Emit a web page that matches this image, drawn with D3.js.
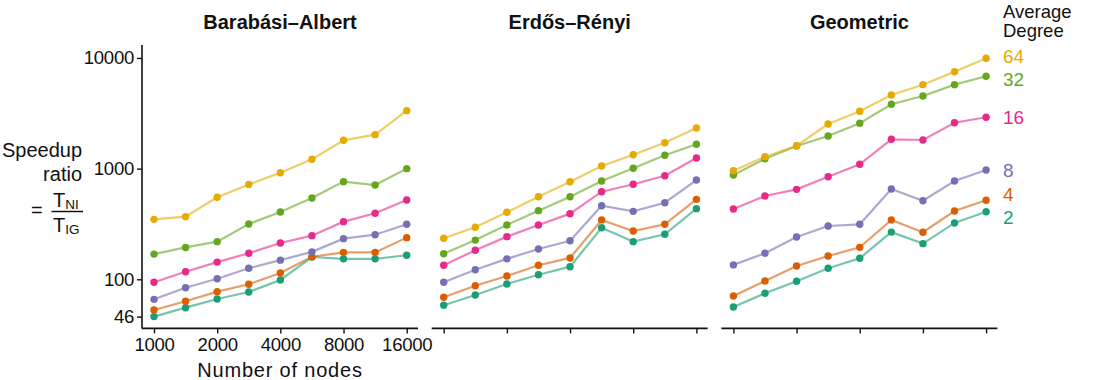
<!DOCTYPE html>
<html><head><meta charset="utf-8">
<script src="https://cdn.jsdelivr.net/npm/d3@7"></script>
<style>
html,body{margin:0;padding:0;background:#fff;}
svg{display:block;font-family:"Liberation Sans",Arial,Helvetica,sans-serif;}
</style></head>
<body><svg id="chart" width="1102" height="380"></svg>
<script>
// ---- data ----
const nodes = [1000, 1414, 2000, 2828, 4000, 5657, 8000, 11314, 16000];
const xTickValues = [1000, 2000, 4000, 8000, 16000];
const xTickLabels = ["1000", "2000", "4000", "8000", "16000"];
const yTickValues = [46, 100, 1000, 10000];
const yTickLabels = ["46", "100", "1000", "10000"];
const degrees = [2, 4, 8, 16, 32, 64];
const degreeColors = ["#1b9e77", "#d95f02", "#7570b3", "#e7298a", "#66a61e", "#e6ab02"];
const panelTitles = ["Barabási–Albert", "Erdős–Rényi", "Geometric"];

// Barabási–Albert
const ba2  = [46, 55.4, 66.4, 76.8, 98.6, 159, 153, 153, 165];
const ba4  = [52.8, 63.3, 77.3, 90.2, 114, 160, 175, 175, 238];
const ba8  = [65.9, 84, 101, 126, 149, 177, 233, 253, 314];
const ba16 = [94, 117, 143, 172, 213, 248, 332, 395, 521];
const ba32 = [169, 194, 219, 316, 406, 543, 763, 711, 1000];
const ba64 = [348, 368, 551, 719, 919, 1214, 1803, 2028, 3342];
// Erdős–Rényi
const er2  = [58.2, 72.1, 90.7, 110, 130, 292, 219, 255, 435];
const er4  = [68.8, 87.5, 107, 134, 156, 344, 273, 314, 528];
const er8  = [94, 122, 153, 188, 223, 462, 411, 492, 789];
const er16 = [134, 183, 243, 310, 392, 619, 722, 863, 1248];
const er32 = [170, 226, 310, 417, 558, 773, 1007, 1321, 1660];
const er64 = [235, 295, 403, 558, 762, 1057, 1337, 1716, 2330];
// Geometric
const geo2  = [56.2, 74.7, 95.9, 126, 155, 267, 210, 323, 408];
const geo4  = [70.6, 96.6, 132, 162.5, 194.5, 344, 266, 414, 518];
const geo8  = [135, 172, 241, 303, 314, 655, 513, 773, 973];
const geo16 = [432, 566, 650, 845, 1094, 1842, 1815, 2602, 2911];
const geo32 = [877, 1230, 1602, 1972, 2570, 3814, 4537, 5738, 6830];
const geo64 = [959, 1282, 1611, 2533, 3296, 4634, 5738, 7518, 9935];

const panelSeries = [
  [ba2, ba4, ba8, ba16, ba32, ba64],
  [er2, er4, er8, er16, er32, er64],
  [geo2, geo4, geo8, geo16, geo32, geo64]
];

// ---- layout ----
const svg = d3.select("#chart");
const plotTop = 45, plotBottom = 328.4;
const panelLeft0 = 142, panelW = 276, panelGap = 13.7;
const y = d3.scaleLog().domain([36, 13100]).range([plotBottom, plotTop]);
const axisColor = "#111";

panelSeries.forEach((series, p) => {
  const left = panelLeft0 + p * (panelW + panelGap);
  const right = left + panelW;
  const x = d3.scaleLog().base(2).domain([1000, 16000]).range([left + 12, right - 11.3]);
  const g = svg.append("g");

  // title
  g.append("text").attr("x", (left + right) / 2).attr("y", 28.7)
    .attr("text-anchor", "middle").attr("font-weight", "bold").attr("font-size", 20)
    .attr("fill", "#111").text(panelTitles[p]);

  // x axis
  const xAxis = d3.axisBottom(x).tickValues(xTickValues).tickSizeOuter(0).tickSize(5).tickPadding(4)
    .tickFormat((d, i) => p === 0 ? xTickLabels[i] : "");
  const xg = g.append("g").attr("transform", `translate(0,${plotBottom})`).call(xAxis);
  xg.select(".domain").remove();
  xg.append("line").attr("x1", left).attr("x2", right).attr("y1", 0).attr("y2", 0)
    .attr("stroke", axisColor).attr("stroke-width", 1.6);
  xg.selectAll(".tick line").attr("stroke", axisColor).attr("stroke-width", 1.4);
  xg.selectAll(".tick text").attr("font-size", 18.6).attr("fill", "#111")
    .attr("font-family", "Liberation Sans, Arial, sans-serif").attr("letter-spacing", -0.3);

  if (p === 0) {
    const yAxis = d3.axisLeft(y).tickValues(yTickValues).tickSize(5).tickPadding(3)
      .tickFormat((d, i) => yTickLabels[i]);
    const yg = g.append("g").attr("transform", `translate(${left},0)`).call(yAxis);
    yg.select(".domain").remove();
    yg.append("line").attr("x1", 0).attr("x2", 0).attr("y1", plotTop).attr("y2", plotBottom)
      .attr("stroke", axisColor).attr("stroke-width", 1.6);
    yg.selectAll(".tick line").attr("stroke", axisColor).attr("stroke-width", 1.4);
    yg.selectAll(".tick text").attr("font-size", 18.6).attr("fill", "#111")
      .attr("font-family", "Liberation Sans, Arial, sans-serif").attr("letter-spacing", -0.3);

    g.append("text").attr("x", (left + right) / 2).attr("y", 376.5)
      .attr("text-anchor", "middle").attr("font-size", 20).attr("letter-spacing", 0.8)
      .attr("fill", "#111").text("Number of nodes");
  }

  const line = d3.line().x((d, i) => x(nodes[i])).y(d => y(d));
  series.forEach((vals, k) => {
    g.append("path").datum(vals).attr("d", line).attr("fill", "none")
      .attr("stroke", degreeColors[k]).attr("stroke-opacity", 0.6).attr("stroke-width", 2.2);
  });
  series.forEach((vals, k) => {
    g.selectAll(null).data(vals).enter().append("circle")
      .attr("cx", (d, i) => x(nodes[i])).attr("cy", d => y(d)).attr("r", 3.7)
      .attr("fill", degreeColors[k]);
  });
});

// ---- y-axis label ----
const yl = svg.append("g").attr("fill", "#111").attr("font-size", 20);
yl.append("text").attr("x", 82).attr("y", 156.5).attr("text-anchor", "end").text("Speedup");
yl.append("text").attr("x", 82).attr("y", 181).attr("text-anchor", "end").text("ratio");
yl.append("text").attr("x", 31).attr("y", 217).text("=");
yl.append("line").attr("x1", 51.5).attr("x2", 83).attr("y1", 211.5).attr("y2", 211.5)
  .attr("stroke", "#111").attr("stroke-width", 1.5);
const num = yl.append("text").attr("x", 53).attr("y", 206.5);
num.append("tspan").text("T");
num.append("tspan").attr("font-size", 13.5).attr("dy", 2).text("NI");
const den = yl.append("text").attr("x", 53).attr("y", 231.5);
den.append("tspan").text("T");
den.append("tspan").attr("font-size", 13.5).attr("dy", 2).text("IG");

// ---- legend (direct labels at the right of Geometric panel) ----
const legX = 1003;
svg.append("text").attr("x", legX).attr("y", 17.5).attr("font-size", 18.5).attr("fill", "#111").text("Average");
svg.append("text").attr("x", legX).attr("y", 37).attr("font-size", 18.5).attr("fill", "#111").text("Degree");

const geoSeries = panelSeries[2];
let labels = degrees.map((d, k) => ({ deg: d, color: degreeColors[k], y: y(geoSeries[k][geoSeries[k].length - 1]) }));
labels.sort((a, b) => a.y - b.y);
const minGap = 23;
for (let iter = 0; iter < 50; iter++) {
  for (let i = 0; i < labels.length - 1; i++) {
    const a = labels[i], b = labels[i + 1];
    const gap = b.y - a.y;
    if (gap < minGap) {
      const shift = (minGap - gap) / 2;
      a.y -= shift; b.y += shift;
    }
  }
}
svg.selectAll(null).data(labels).enter().append("text")
  .attr("x", legX).attr("y", d => d.y).attr("dy", "0.36em")
  .attr("font-size", 19).attr("fill", d => d.color).text(d => d.deg);
</script>
</body></html>
